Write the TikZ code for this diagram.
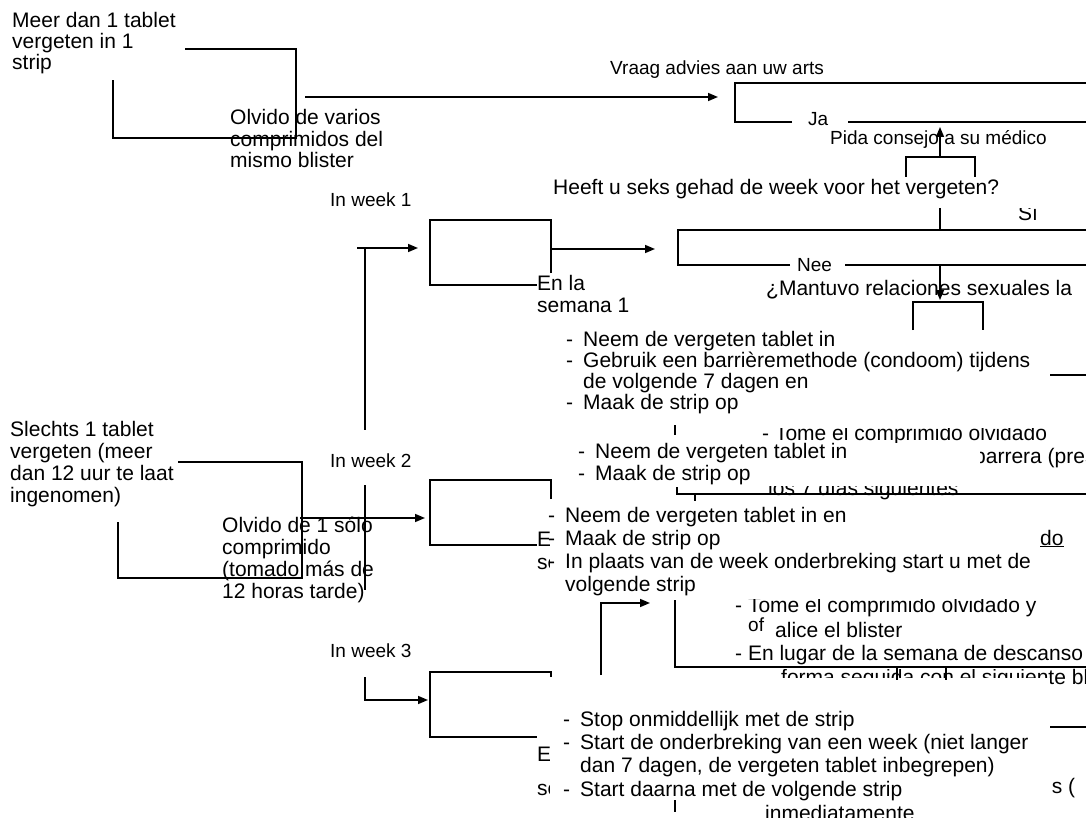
\documentclass[tikz,border=0pt]{standalone}
\usepackage{fontspec}
\setmainfont{Liberation Sans}
\usetikzlibrary{arrows.meta}

\newcommand\fsz{\fontsize{21}{22}\selectfont}
\newcommand\fsm{\fontsize{19}{21.5}\selectfont}
\newcommand\itm{\makebox[17pt][l]{-}}
\newcommand\cnt{\hspace*{17pt}}

\begin{document}
\begin{tikzpicture}[
  x=1pt, y=-1pt,
  >={Triangle[length=10pt,width=8pt]},
  txt/.style={anchor=base west, inner sep=0pt, font=\fsz, align=left},
  lbl/.style={txt, font=\fsm},
  ln/.style={line width=1.5pt},
  arr/.style={ln, ->},
]
\useasboundingbox (0,0) rectangle (1086,818);

% left hand side
\node[txt, font=\fontsize{21}{21}\selectfont] (meer) at (12,70) {Meer dan 1 tablet\\vergeten in 1\\strip};
\node[txt, font=\fontsize{21}{21.5}\selectfont] (varios) at (230,168) {Olvido de varios\\comprimidos del\\mismo blister};
\node[txt] (slechts) at (10,502) {Slechts 1 tablet\\vergeten (meer\\dan 12 uur te laat\\ingenomen)};
\node[txt] (solo) at (222,598) {Olvido de 1 sólo\\comprimido\\(tomado más de\\12 horas tarde)};
\node[lbl] (wk1) at (330,207) {In week 1};
\node[lbl] (wk2) at (330,467) {In week 2};
\node[lbl] (wk3) at (330,657) {In week 3};

% top right
\node[lbl] (vraag) at (610,75) {Vraag advies aan uw arts};
\node[lbl] (ja) at (808,126) {Ja};
\node[lbl] (pida) at (830,145) {Pida consejo a su médico};
\node[txt] (heeft) at (553,195) {Heeft u seks gehad de week voor het vergeten?};
\begin{scope}
  \clip (990,209) rectangle (1086,240);
  \node[txt] (si) at (1018,221) {Sí};
\end{scope}
\node[lbl] (nee) at (797,271) {Nee};
\node[txt] (mantuvo) at (766,295) {¿Mantuvo relaciones sexuales la};
\node[txt] (enla1) at (537,312) {En la\\semana 1};

% lists
\node[txt, font=\fontsize{21}{21}\selectfont] (lijst1) at (566,409) {\itm Neem de vergeten tablet in\\\itm Gebruik een barrièremethode (condoom) tijdens\\\cnt de volgende 7 dagen en\\\itm Maak de strip op};
\begin{scope}
  \clip (700,428) rectangle (1086,442);
  \node[txt] (tome1) at (762,440) {- Tome el comprimido olvidado};
\end{scope}
\node[txt] (lijst2) at (578,480) {\itm Neem de vergeten tablet in\\\itm Maak de strip op};
\begin{scope}
  \clip (980,440) rectangle (1086,480);
  \node[txt] (barrera) at (974,463) {barrera (preservativo)};
\end{scope}
\begin{scope}
  \clip (700,486) rectangle (1086,500);
  \node[txt] (dias) at (768,495) {los 7 días siguientes};
\end{scope}
\begin{scope}
  \clip (500,500) rectangle (549,600);
  \node[txt, font=\fontsize{21}{23}\selectfont] (enla2) at (537,569) {En la\\semana 2};
\end{scope}
\node[txt, font=\fontsize{21}{23}\selectfont] (lijst3) at (548,591) {\itm Neem de vergeten tablet in en\\\itm Maak de strip op\\\itm In plaats van de week onderbreking start u met de\\\cnt volgende strip};
\node[txt] (do) at (1040,545) {\underline{do}};
\begin{scope}
  \clip (700,599) rectangle (1086,640);
  \node[txt] (tome2) at (735,612) {- Tome el comprimido olvidado y};
\end{scope}
\node[lbl] (of) at (748,631) {of};
\node[txt] (blister) at (775,637) {alice el blister};
\node[txt] (lugar) at (735,660) {\underline{- En lugar de la semana de descanso}};
\begin{scope}
  \clip (700,669) rectangle (1050,677) (1050,660) rectangle (1086,700);
  \node[txt] (forma) at (781,684) {forma seguida con el siguiente blister};
\end{scope}
\begin{scope}
  \clip (500,740) rectangle (549,800);
  \node[txt, font=\fontsize{21}{34}\selectfont] (enla3) at (537,795) {En la\\semana 3};
\end{scope}
\node[txt, font=\fontsize{21}{23.3}\selectfont] (lijst4) at (563,796) {\itm Stop onmiddellijk met de strip\\\itm Start de onderbreking van een week (niet langer\\\cnt dan 7 dagen, de vergeten tablet inbegrepen)\\\itm Start daarna met de volgende strip};
\begin{scope}
  \clip (1052,770) rectangle (1086,800);
  \node[txt] (os) at (1040,793) {os (};
\end{scope}
\begin{scope}
  \clip (700,804) rectangle (1086,818);
  \node[txt] (inmed) at (765,820) {inmediatamente};
\end{scope}

% corner points of the connectors
\coordinate (m1) at (185,49);
\coordinate (m2) at (296,138);
\coordinate (m3) at (113,80);
\coordinate (s1) at (178,462);
\coordinate (s2) at (302,578);
\coordinate (s3) at (118,522);
\coordinate (a1) at (305,97);
\coordinate (a2) at (718,97);
\coordinate (a3) at (300,518);
\coordinate (a4) at (425,518);
\coordinate (w1) at (357,248);
\coordinate (w1b) at (418,248);
\coordinate (w1c) at (365,430);
\coordinate (w2a) at (365,485);
\coordinate (w2b) at (365,590);
\coordinate (w3a) at (365,677);
\coordinate (w3b) at (428,700);
\coordinate (b1) at (552,249);
\coordinate (b1b) at (655,249);

% connectors, left
\draw[ln] (m1) -| (m2) -| (m3);
\draw[arr] (a1) -- (a2);
\draw[ln] (s1) -| (s2) -| (s3);
\draw[arr] (a3) -- (a4);
\draw[arr] (w1) -- (w1b);
\draw[ln] (365,248) -- (w1c);
\draw[ln] (w2a) -- (w2b);
\draw[arr] (w3a) |- (w3b);
\draw[arr] (b1) -- (b1b);

% week boxes
\draw[ln] (551,273) -- (551,220) -- (430,220) -- (430,285) -- (537,285);
\draw[ln] (551,499) -- (551,480) -- (430,480) -- (430,545) -- (537,545);
\draw[ln] (551,677) -- (551,672) -- (430,672) -- (430,737) -- (537,737);

% question boxes
\draw[ln] (792,122) -- (735,122) -- (735,83) -- (1090,83);
\draw[ln] (848,122) -- (1090,122);
\draw[arr] (940,157) -- (940,127);
\draw[ln] (906,177) -- (906,157) -- (975,157) -- (975,177);
\draw[ln] (940,208) -- (940,230);
\draw[ln] (790,265) -- (678,265) -- (678,230) -- (1090,230);
\draw[ln] (845,265) -- (1090,265);
\draw[arr] (940,265) -- (940,300);
\draw[ln] (913,330) -- (913,302) -- (983,302) -- (983,330);

% loose lines on the right
\draw[ln] (1050,375) -- (1090,375);
\draw[ln] (675,425) -- (675,435);
\draw[ln] (677,487) -- (677,494) -- (1090,494);
\draw[ln] (695,494) -- (695,501);
\draw[arr] (601,675) |- (650,603);
\draw[ln] (675,600) -- (675,667) -- (1090,667);
\draw[ln] (897,667) -- (897,680);
\draw[ln] (946,667) -- (946,680);
\draw[ln] (1050,727) -- (1090,727);
\draw[ln] (675,800) -- (675,812);

\end{tikzpicture}
\end{document}
